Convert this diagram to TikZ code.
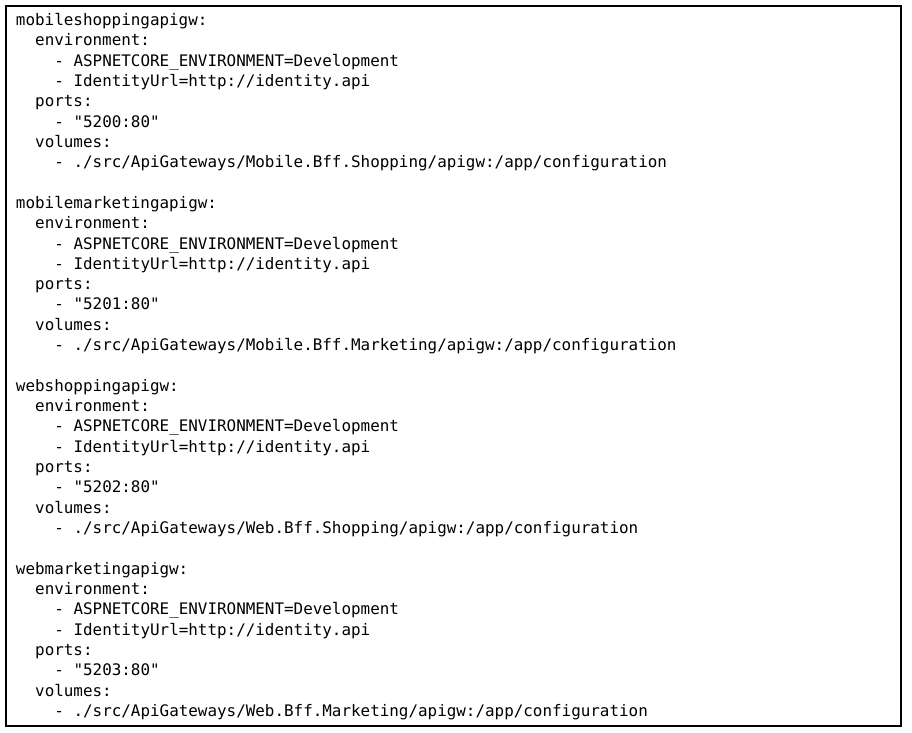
\documentclass[tikz,border=0pt]{standalone}
\usepackage{fontspec}
\newfontfamily\codefont{DejaVu Sans Mono}
\begin{document}
\begin{tikzpicture}[x=1pt,y=-1pt,
  codeline/.style={anchor=base west, inner sep=0pt, outer sep=0pt, font=\codefont\fontsize{15.9}{20}\selectfont, text=black},
  frame/.style={draw=black, line width=2pt}]
\useasboundingbox (0,0) rectangle (912,732);
\draw[frame] (6,6) rectangle (901,726);
% block 1
\node[codeline] (l0) at (16,25.5) {mobileshoppingapigw:};
\node[codeline] (l1) at (35.2,45.8) {environment:};
\node[codeline] (l2) at (54.4,66.1) {- ASPNETCORE\_ENVIRONMENT=Development};
\node[codeline] (l3) at (54.4,86.5) {- IdentityUrl=http://identity.api};
\node[codeline] (l4) at (35.2,106.8) {ports:};
\node[codeline] (l5) at (54.4,127.1) {- "5200:80"};
\node[codeline] (l6) at (35.2,147.4) {volumes:};
\node[codeline] (l7) at (54.4,167.7) {- ./src/ApiGateways/Mobile.Bff.Shopping/apigw:/app/configuration};
% block 2
\node[codeline] (l9) at (16,208.4) {mobilemarketingapigw:};
\node[codeline] (l10) at (35.2,228.7) {environment:};
\node[codeline] (l11) at (54.4,249.0) {- ASPNETCORE\_ENVIRONMENT=Development};
\node[codeline] (l12) at (54.4,269.3) {- IdentityUrl=http://identity.api};
\node[codeline] (l13) at (35.2,289.6) {ports:};
\node[codeline] (l14) at (54.4,309.9) {- "5201:80"};
\node[codeline] (l15) at (35.2,330.2) {volumes:};
\node[codeline] (l16) at (54.4,350.6) {- ./src/ApiGateways/Mobile.Bff.Marketing/apigw:/app/configuration};
% block 3
\node[codeline] (l18) at (16,391.3) {webshoppingapigw:};
\node[codeline] (l19) at (35.2,411.6) {environment:};
\node[codeline] (l20) at (54.4,431.9) {- ASPNETCORE\_ENVIRONMENT=Development};
\node[codeline] (l21) at (54.4,452.2) {- IdentityUrl=http://identity.api};
\node[codeline] (l22) at (35.2,472.5) {ports:};
\node[codeline] (l23) at (54.4,492.8) {- "5202:80"};
\node[codeline] (l24) at (35.2,513.1) {volumes:};
\node[codeline] (l25) at (54.4,533.5) {- ./src/ApiGateways/Web.Bff.Shopping/apigw:/app/configuration};
% block 4
\node[codeline] (l27) at (16,574.1) {webmarketingapigw:};
\node[codeline] (l28) at (35.2,594.4) {environment:};
\node[codeline] (l29) at (54.4,614.7) {- ASPNETCORE\_ENVIRONMENT=Development};
\node[codeline] (l30) at (54.4,635.0) {- IdentityUrl=http://identity.api};
\node[codeline] (l31) at (35.2,655.4) {ports:};
\node[codeline] (l32) at (54.4,675.7) {- "5203:80"};
\node[codeline] (l33) at (35.2,696.0) {volumes:};
\node[codeline] (l34) at (54.4,716.3) {- ./src/ApiGateways/Web.Bff.Marketing/apigw:/app/configuration};
\end{tikzpicture}
\end{document}
